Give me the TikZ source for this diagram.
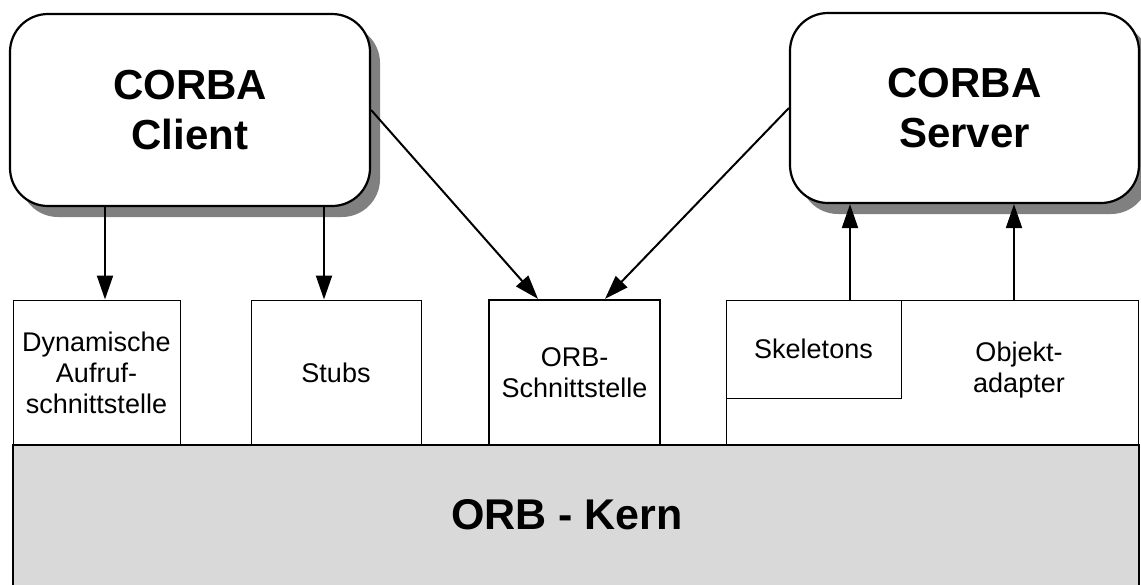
\documentclass[tikz,border=0pt]{standalone}
\usepackage{fontspec}
\setmainfont{Liberation Sans}
\usetikzlibrary{arrows.meta,shadows}
\definecolor{shadowgray}{HTML}{808080}
\definecolor{kerngray}{HTML}{D9D9D9}
\begin{document}
\begin{tikzpicture}[x=1pt,y=-1pt,
  roundbox/.style={draw, line width=2.2pt, rounded corners=38pt, fill=white,
    general shadow={fill=shadowgray, shadow xshift=10pt, shadow yshift=-11pt},
    inner sep=0pt, align=center, font=\fontsize{42}{50}\selectfont\bfseries},
  layerbox/.style={draw, line width=1pt, fill=white, inner sep=0pt,
    align=center, font=\fontsize{27}{31}\selectfont},
  boldbox/.style={layerbox, line width=2.2pt},
  plaintext/.style={inner sep=0pt, align=center, font=\fontsize{27}{31}\selectfont},
  arr/.style={line width=2pt, -{Triangle[length=24pt,width=16pt]}}]
\useasboundingbox (0,0) rectangle (1141,584);
\clip (0,0) rectangle (1141,584);

% application side
\node[roundbox, minimum width=360pt, minimum height=192pt] (client) at (190,110) {CORBA\\Client};
\node[roundbox, minimum width=349pt, minimum height=190pt] (server) at (964.5,108) {CORBA\\Server};

% interface layer
\node[layerbox, minimum width=167pt, minimum height=145pt] (dyn) at (96.5,372.5) {Dynamische\\Aufruf-\\schnittstelle};
\node[layerbox, minimum width=170pt, minimum height=145pt] (stubs) at (336,372.5) {Stubs};
\node[boldbox, minimum width=171pt, minimum height=145pt] (orb) at (574.5,372.5) {ORB-\\Schnittstelle};
\node[layerbox, minimum width=412pt, minimum height=145pt] (oa) at (932,372.5) {};
\node[layerbox, minimum width=175pt, minimum height=98pt] (skel) at (813.5,349) {Skeletons};
\node[plaintext] (oatext) at (1019,370) {Objekt-\\adapter};

% core
\node[draw, line width=2.5pt, fill=kerngray, minimum width=1126pt, minimum height=160pt, inner sep=0pt] (kern) at (576,525) {};
\node[inner sep=0pt, font=\fontsize{43}{50}\selectfont\bfseries] (kerntext) at (567,514.5) {ORB - Kern};

% connectors
\draw[arr] ([xshift=-85pt]client.south) -- ([xshift=-85pt]client.south |- dyn.north);
\draw[arr] ([xshift=134pt]client.south) -- ([xshift=134pt]client.south |- stubs.north);
\draw[arr] (client.east) -- ([xshift=-36.5pt]orb.north);
\draw[arr] (server.west) -- ([xshift=30.5pt]orb.north);
\draw[arr] ([xshift=36.5pt]skel.north) -- ([xshift=36.5pt]skel.north |- server.south);
\draw[arr] ([xshift=82pt]oa.north) -- ([xshift=82pt]oa.north |- server.south);
\end{tikzpicture}
\end{document}
